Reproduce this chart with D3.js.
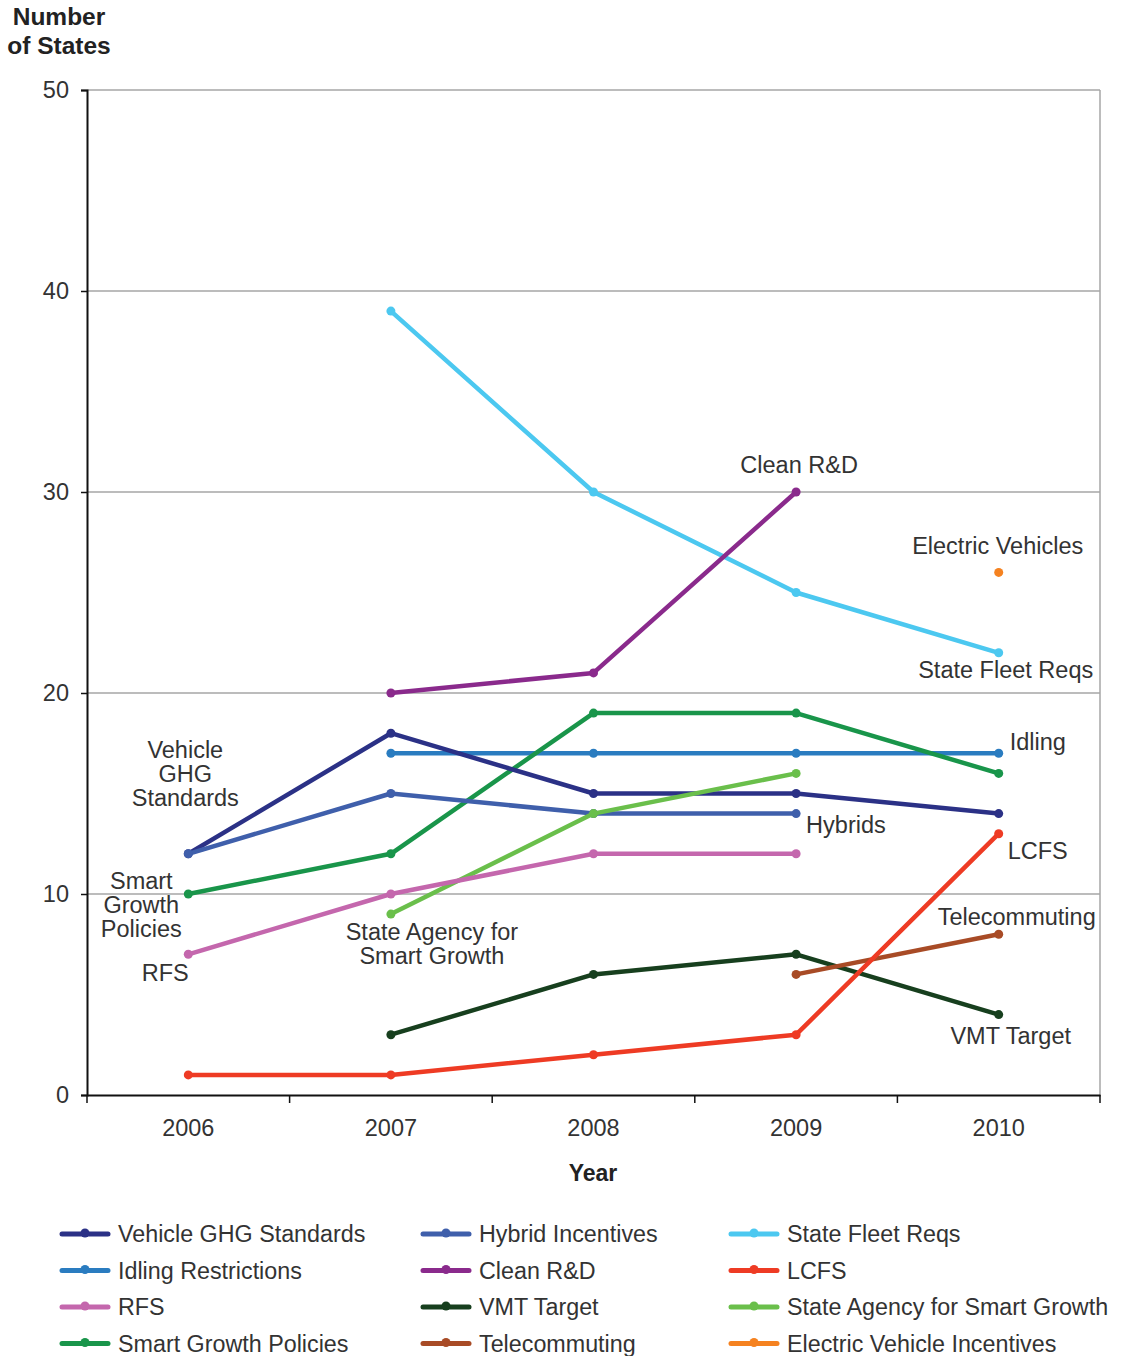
<!DOCTYPE html>
<html><head><meta charset="utf-8">
<script src="https://cdn.jsdelivr.net/npm/d3@7"></script>
<style>
body{margin:0;background:#fff;}
svg text{font-family:"Liberation Sans",Arial,sans-serif;}
</style></head>
<body><svg id="c" width="1125" height="1356"></svg>
<script>
const years = ["2006","2007","2008","2009","2010"];
const yTicks = [0,10,20,30,40,50];
const seriesNames = ["Vehicle GHG Standards","Hybrid Incentives","State Fleet Reqs","Idling Restrictions","Clean R&D","LCFS","RFS","VMT Target","State Agency for Smart Growth","Smart Growth Policies","Telecommuting","Electric Vehicle Incentives"];
const seriesColors = ["#2b3186","#3f5fab","#4cc8f0","#2a7cc0","#8a2a8c","#ee3b24","#c467ad","#173f1e","#6abf4b","#19954a","#a84b26","#f58220"];
// values per year (null = no data)
const vehicleGHG   = [12,18,15,15,14];
const hybrid       = [12,15,14,14,null];
const stateFleet   = [null,39,30,25,22];
const idling       = [null,17,17,17,17];
const cleanRD      = [null,20,21,30,null];
const lcfs         = [1,1,2,3,13];
const rfs          = [7,10,12,12,null];
const vmtTarget    = [null,3,6,7,4];
const stateAgency  = [null,9,14,16,null];
const smartGrowth  = [10,12,19,19,16];
const telecommute  = [null,null,null,6,8];
const electricVeh  = [null,null,null,null,26];
const seriesValues = [vehicleGHG,hybrid,stateFleet,idling,cleanRD,lcfs,rfs,vmtTarget,stateAgency,smartGrowth,telecommute,electricVeh];
// draw order (back to front)
const drawOrder = [2,4,3,9,0,1,8,6,7,10,5,11];
// annotation labels
const annotations = [
  {lines:["Vehicle","GHG","Standards"], yi:0, v:17.1, a:"middle", dx:-3},
  {lines:["Smart","Growth","Policies"], yi:0, v:10.6, a:"middle", dx:-47},
  {lines:["RFS"], yi:0, v:6.0, a:"middle", dx:-23},
  {lines:["State Agency for","Smart Growth"], yi:1, v:8.05, a:"middle", dx:41},
  {lines:["Clean R&D"], yi:3, v:31.3, a:"middle", dx:3},
  {lines:["Electric Vehicles"], yi:4, v:27.25, a:"middle", dx:-1},
  {lines:["State Fleet Reqs"], yi:4, v:21.1, a:"middle", dx:7},
  {lines:["Idling"], yi:4, v:17.5, a:"start", dx:11},
  {lines:["Hybrids"], yi:3, v:13.4, a:"start", dx:10},
  {lines:["LCFS"], yi:4, v:12.1, a:"start", dx:9},
  {lines:["Telecommuting"], yi:4, v:8.8, a:"middle", dx:18},
  {lines:["VMT Target"], yi:4, v:2.9, a:"middle", dx:12}
];

const svg = d3.select("#c");
const L=87, R=1100, T=90, B=1095;
const x = d3.scaleBand().domain(years).range([L,R]);
const y = d3.scaleLinear().domain([0,50]).range([B,T]);
const cx = yr => x(yr)+x.bandwidth()/2;
const FS = 23.5;

// gridlines
svg.append("g").selectAll("line").data(yTicks.filter(d=>d>0)).join("line")
  .attr("x1",L).attr("x2",R).attr("y1",d=>y(d)).attr("y2",d=>y(d))
  .attr("stroke","#a6a6a6").attr("stroke-width",1.5);
svg.append("line").attr("x1",R).attr("x2",R).attr("y1",T).attr("y2",B)
  .attr("stroke","#a6a6a6").attr("stroke-width",1.5);

// y axis
const ya = svg.append("g").attr("transform",`translate(${L},0)`)
  .call(d3.axisLeft(y).tickValues(yTicks).tickSize(6).tickPadding(12));
ya.select(".domain").attr("stroke","#111").attr("stroke-width",2);
ya.selectAll(".tick line").attr("stroke","#111").attr("stroke-width",1.5);
ya.selectAll(".tick text").attr("font-size",FS).attr("fill","#333");

// x axis
const xa = svg.append("g").attr("transform",`translate(0,${B})`)
  .call(d3.axisBottom(x).tickSize(0).tickPadding(24));
xa.select(".domain").attr("stroke","#111").attr("stroke-width",2);
xa.selectAll(".tick text").attr("font-size",FS).attr("fill","#333");
const bounds = years.map(d=>x(d)).concat([R]);
svg.append("g").selectAll("line").data(bounds).join("line")
  .attr("x1",d=>d).attr("x2",d=>d).attr("y1",B).attr("y2",B+8)
  .attr("stroke","#111").attr("stroke-width",1.5);

// titles
svg.append("text").attr("x",59).attr("y",25).attr("text-anchor","middle")
  .attr("font-size",24.5).attr("font-weight","bold").attr("fill","#222").text("Number");
svg.append("text").attr("x",59).attr("y",54).attr("text-anchor","middle")
  .attr("font-size",24.5).attr("font-weight","bold").attr("fill","#222").text("of States");
svg.append("text").attr("x",593).attr("y",1181).attr("text-anchor","middle")
  .attr("font-size",23).attr("font-weight","bold").attr("fill","#222").text("Year");

// lines
const line = d3.line().defined(d=>d.v!==null).x(d=>cx(d.yr)).y(d=>y(d.v));
drawOrder.forEach(i=>{
  const pts = years.map((yr,k)=>({yr, v:seriesValues[i][k]}));
  const g = svg.append("g");
  g.append("path").datum(pts).attr("d",line).attr("fill","none")
    .attr("stroke",seriesColors[i]).attr("stroke-width",4.5).attr("stroke-linejoin","round");
  g.selectAll("circle").data(pts.filter(d=>d.v!==null)).join("circle")
    .attr("cx",d=>cx(d.yr)).attr("cy",d=>y(d.v)).attr("r",4.5).attr("fill",seriesColors[i]);
});

// annotations
annotations.forEach(a=>{
  const t = svg.append("text").attr("text-anchor",a.a).attr("font-size",FS).attr("fill","#333");
  a.lines.forEach((ln,k)=>{
    t.append("tspan").attr("x",cx(years[a.yi])+a.dx).attr("y",y(a.v)+7+k*24).text(ln);
  });
});

// legend
const legX = [62,423,731], legY0 = 1234, legDY = 36.5;
seriesNames.forEach((n,i)=>{
  const col = i%3, row = Math.floor(i/3);
  const g = svg.append("g").attr("transform",`translate(${legX[col]},${legY0+row*legDY})`);
  g.append("line").attr("x1",0).attr("x2",46).attr("y1",0).attr("y2",0)
    .attr("stroke",seriesColors[i]).attr("stroke-width",5).attr("stroke-linecap","round");
  g.append("circle").attr("cx",23).attr("cy",-1).attr("r",4.5).attr("fill",seriesColors[i]);
  g.append("text").attr("x",56).attr("y",8).attr("font-size",23.3).attr("fill","#333").text(n);
});
</script></body></html>
